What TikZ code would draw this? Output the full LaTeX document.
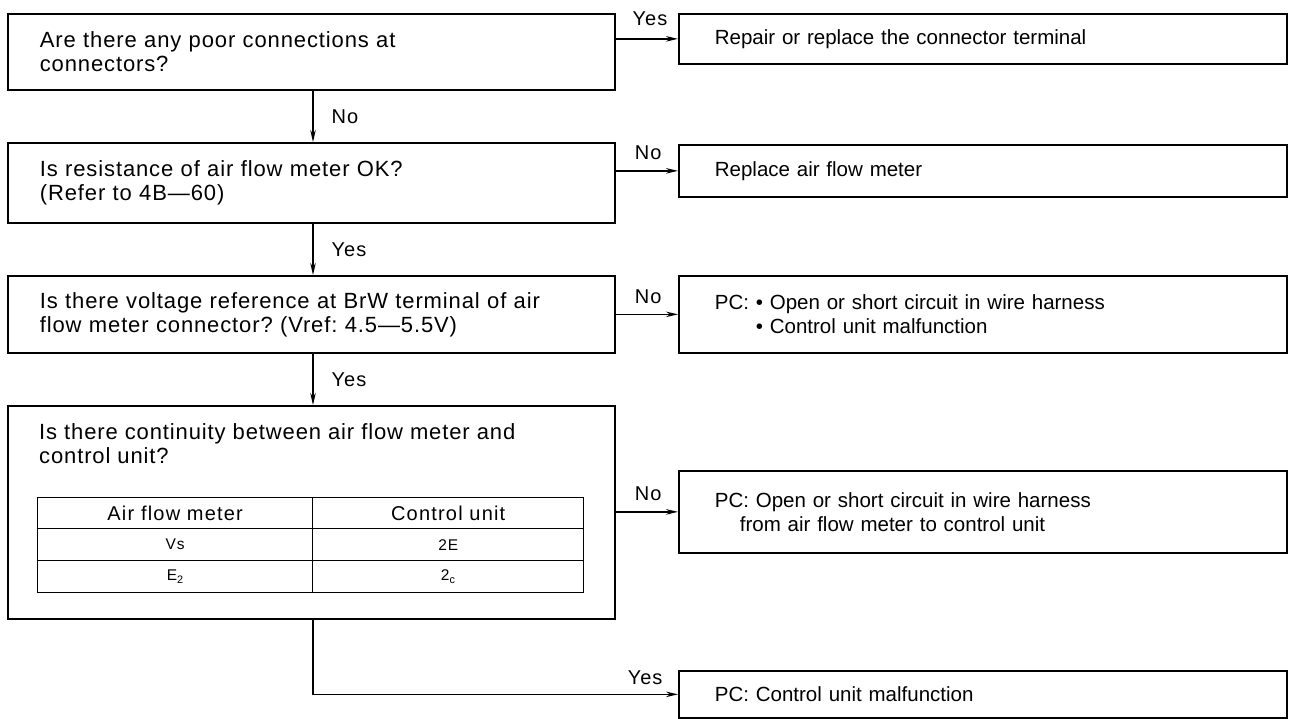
\documentclass[tikz,border=0pt]{standalone}
\usepackage{fontspec}
\setmainfont{Liberation Sans}
\newfontfamily\lfont[LetterSpace=4]{Liberation Sans}
\newfontfamily\tfont[LetterSpace=6]{Liberation Sans}
\newfontfamily\labfont[LetterSpace=5]{Liberation Sans}
\usetikzlibrary{arrows.meta}
\frenchspacing
\begin{document}
\begin{tikzpicture}[x=1pt,y=-1pt,
  box/.style={draw,line width=1.7pt,anchor=north west,inner ysep=0pt,align=left},
  lbox/.style={box,font=\lfont\fontsize{22}{24}\selectfont},
  rbox/.style={box,font=\fontsize{20.5}{24}\selectfont},
  txt/.style={anchor=north west,inner sep=0pt,align=left,font=\lfont\fontsize{22}{24}\selectfont},
  cell/.style={draw,line width=1.4pt,anchor=north west,inner sep=0pt},
  hd/.style={font=\tfont\fontsize{20}{22}\selectfont},
  ent/.style={font=\tfont\fontsize{15.5}{18}\selectfont},
  arr/.style={line width=1.4pt,-{Stealth[length=12pt,width=5.5pt]}},
  lab/.style={font=\labfont\fontsize{20}{22}\selectfont,inner sep=0pt}]
\useasboundingbox (0,0) rectangle (1289,719);
\newcommand\qbox[8]{% style, name, l, t, r, b, indent, text
  \pgfmathsetmacro\qw{#5-#3}\pgfmathsetmacro\qh{#6-#4}\pgfmathsetmacro\qtw{#5-#3-2*#7}%
  \node[#1,minimum width=\qw pt,minimum height=\qh pt,text width=\qtw pt,inner xsep=#7pt] (#2) at (#3,#4) {#8};}
\newcommand\qcell[7]{% name, l, t, r, b, style, text
  \pgfmathsetmacro\qw{#4-#2}\pgfmathsetmacro\qh{#5-#3}%
  \node[cell,#6,minimum width=\qw pt,minimum height=\qh pt] (#1) at (#2,#3) {#7};}
% left column
\qbox{lbox}{L1}{7}{13}{614}{89}{32}{Are there any poor connections at\\connectors?}
\qbox{lbox}{L2}{7}{142}{614}{222}{32}{Is resistance of air flow meter OK?\\(Refer to 4B—60)}
\qbox{lbox}{L3}{7}{275}{614}{352}{32}{Is there voltage reference at BrW terminal of air\\flow meter connector? (Vref: 4.5—5.5V)}
\qbox{lbox}{L4}{7}{405}{614}{618}{32}{}
\node[txt] (L4t) at (39,423) {Is there continuity between air flow meter and\\control unit?};
% table
\qcell{T11}{37}{497}{312}{528}{hd}{Air flow meter}
\qcell{T12}{312}{497}{583}{528}{hd}{Control unit}
\qcell{T21}{37}{528}{312}{560}{ent}{Vs}
\qcell{T22}{312}{528}{583}{560}{ent}{2E}
\qcell{T31}{37}{560}{312}{592}{ent}{E\textsubscript{2}}
\qcell{T32}{312}{560}{583}{592}{ent}{2\textsubscript{c}}
% right column
\qbox{rbox}{R1}{678}{13}{1286}{63}{36}{Repair or replace the connector terminal}
\qbox{rbox}{R2}{678}{144}{1286}{196}{36}{Replace air flow meter}
\qbox{rbox}{R3}{678}{275}{1286}{352}{36}{PC: • Open or short circuit in wire harness\\\phantom{PC: }• Control unit malfunction}
\qbox{rbox}{R4}{678}{470}{1286}{552}{36}{PC: Open or short circuit in wire harness\\\hspace*{25pt}from air flow meter to control unit}
\qbox{rbox}{R5}{678}{670}{1286}{717}{36}{PC: Control unit malfunction}
\coordinate (vx) at (313,0);
% horizontal connectors
\draw[arr] (R1.west -| L1.east) -- node[lab,above=12pt,pos=0.55]{Yes} (R1.west);
\draw[arr] (R2.west -| L2.east) -- node[lab,above=10pt,pos=0.52]{No} (R2.west);
\draw[arr] (R3.west -| L3.east) -- node[lab,above=10pt,pos=0.52]{No} (R3.west);
\draw[arr] (R4.west -| L4.east) -- node[lab,above=10pt,pos=0.52]{No} (R4.west);
% vertical connectors
\draw[arr] (vx |- L1.south) -- node[lab,right=18pt]{No} (vx |- L2.north);
\draw[arr] (vx |- L2.south) -- node[lab,right=18pt]{Yes} (vx |- L3.north);
\draw[arr] (vx |- L3.south) -- node[lab,right=18pt]{Yes} (vx |- L4.north);
\draw[arr] (vx |- L4.south) -- (vx |- R5.west) -- node[lab,above=9pt,pos=0.91]{Yes} (R5.west);
\end{tikzpicture}
\end{document}
